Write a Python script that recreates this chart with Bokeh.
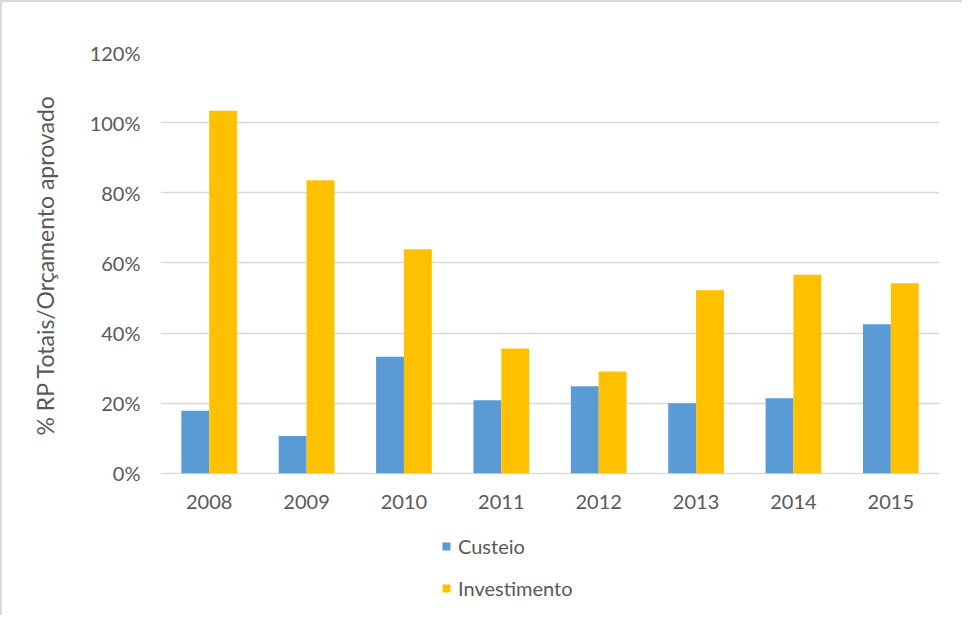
from bokeh.plotting import figure
from bokeh.models import (FactorRange, Range1d, FixedTicker, NumeralTickFormatter,
                          ColumnDataSource, Legend, LegendItem, Title)
from bokeh.core.properties import value
from bokeh.transform import dodge
from bokeh.embed import file_html
from bokeh.resources import INLINE

years = ["2008", "2009", "2010", "2011", "2012", "2013", "2014", "2015"]
custeio = [0.178, 0.106, 0.332, 0.208, 0.248, 0.200, 0.214, 0.425]
investimento = [1.034, 0.836, 0.639, 0.356, 0.290, 0.522, 0.566, 0.542]
y_ticks = [0.0, 0.2, 0.4, 0.6, 0.8, 1.0, 1.2]
series_names = ["Custeio", "Investimento"]
series_colors = ["#5B9BD5", "#FFC000"]
y_title = "% RP Totais/Orçamento aprovado"

FONT = "Lato"
TXT = "#595959"
GRID = "#D9D9D9"

src = ColumnDataSource(dict(year=years, custeio=custeio, investimento=investimento))

# frame extended below 0 so the legend (placed under the year labels) is not clipped
p = figure(x_range=FactorRange(*years, range_padding=0), y_range=Range1d(-0.4, 1.2),
           width=962, height=615, output_backend="svg", toolbar_location=None,
           x_axis_location=None,
           min_border_left=158, min_border_right=25, min_border_top=50,
           min_border_bottom=4)
p.styles = {"border-left": "2px solid #D9D9D9", "border-top": "2px solid #D9D9D9"}
p.outline_line_color = None

r1 = p.vbar(x=dodge("year", -0.143, range=p.x_range), top="custeio", width=0.286,
            source=src, fill_color=series_colors[0], line_color=None)
r2 = p.vbar(x=dodge("year", 0.143, range=p.x_range), top="investimento", width=0.286,
            source=src, fill_color=series_colors[1], line_color=None)

# year (category) labels under the 0% line
p.text(x=years, y=0, text=years, text_align="center", text_baseline="middle",
       y_offset=29, text_font=value(FONT), text_font_size=value("20px"),
       text_color=TXT)

# y axis
p.yaxis.ticker = FixedTicker(ticks=y_ticks)
p.yaxis.formatter = NumeralTickFormatter(format="0%")
p.yaxis.axis_line_color = None
p.yaxis.major_tick_line_color = None
p.yaxis.minor_tick_line_color = None
p.yaxis.major_tick_out = 0
p.yaxis.major_label_standoff = 20
p.yaxis.major_label_text_font = FONT
p.yaxis.major_label_text_font_size = "20px"
p.yaxis.major_label_text_color = TXT

p.add_layout(Title(text=y_title, align="left", offset=178, vertical_align="top",
                   standoff=52, text_font=FONT, text_font_size="23px",
                   text_font_style="normal", text_color=TXT), "left")

p.xgrid.grid_line_color = None
p.ygrid.grid_line_color = GRID
p.ygrid.grid_line_width = 1.5

legend = Legend(items=[LegendItem(label=series_names[0], renderers=[r1]),
                       LegendItem(label=series_names[1], renderers=[r2])],
                location=(281, 13), orientation="vertical",
                padding=0, margin=0, spacing=18,
                glyph_width=10, glyph_height=10, label_height=20,
                label_standoff=7, border_line_color=None,
                background_fill_alpha=0,
                label_text_font=FONT, label_text_font_size="20px",
                label_text_color=TXT)
p.add_layout(legend, "center")

open("out.html", "w").write(file_html(p, INLINE))
